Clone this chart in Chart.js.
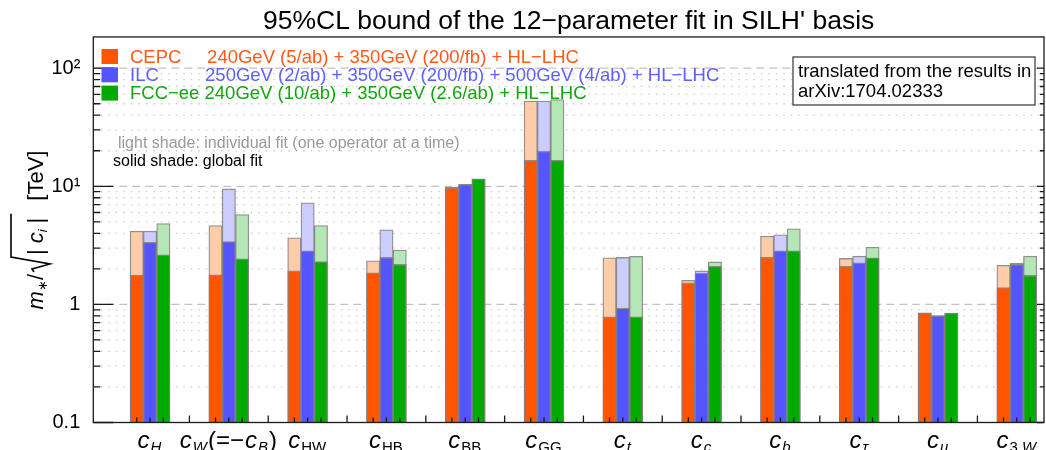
<!DOCTYPE html>
<html>
<head>
<meta charset="utf-8">
<script src="https://cdn.jsdelivr.net/npm/chart.js@4.4.1/dist/chart.umd.min.js"></script>
<style>
  html, body { margin: 0; padding: 0; background: #fff; }
  #wrap { width: 1046px; height: 450px; }
</style>
</head>
<body>
<div id="wrap"><canvas id="grafic"></canvas></div>
<script>
const categories = ['c_H', 'c_W(=−c_B)', 'c_HW', 'c_HB', 'c_BB', 'c_GG', 'c_t', 'c_c', 'c_b', 'c_τ', 'c_μ', 'c_3 W'];

// global fit (solid shade), TeV
const cepcGlobal = [1.77, 1.78, 1.92, 1.85, 9.7, 16.6, 0.785, 1.52, 2.51, 2.11, 0.844, 1.39];
const ilcGlobal  = [3.35, 3.41, 2.84, 2.50, 10.35, 19.8, 0.93, 1.84, 2.84, 2.25, 0.80, 2.18];
const fccGlobal  = [2.63, 2.43, 2.31, 2.18, 11.5, 16.6, 0.785, 2.10, 2.84, 2.48, 0.84, 1.76];
// individual fit (light shade), TeV
const cepcIndiv = [4.17, 4.66, 3.66, 2.34, 9.85, 52.8, 2.48, 1.60, 3.78, 2.45, 0.85, 2.14];
const ilcIndiv  = [4.17, 9.5, 7.24, 4.28, 10.4, 52.8, 2.50, 1.92, 3.88, 2.56, 0.805, 2.24];
const fccIndiv  = [4.84, 5.77, 4.66, 2.88, 11.55, 54.2, 2.55, 2.29, 4.36, 3.05, 0.845, 2.56];

const yTickValues = [0.1, 1, 10, 100];
const yTickLabels = ['0.1', '1', '10¹', '10²'];

const legendLines = [
  'CEPC     240GeV (5/ab) + 350GeV (200/fb) + HL−LHC',
  'ILC         250GeV (2/ab) + 350GeV (200/fb) + 500GeV (4/ab) + HL−LHC',
  'FCC−ee 240GeV (10/ab) + 350GeV (2.6/ab) + HL−LHC'
];
const noteLines = ['light shade: individual fit (one operator at a time)', 'solid shade: global fit'];
const boxLines = ['translated from the results in', 'arXiv:1704.02333'];

const FONT = '"Liberation Sans", Arial, sans-serif';
const solidColors = ['#ff5500', '#5555ff', '#00aa00'];
const lightColors = ['#ffccaa', '#ccccff', '#b5e6b5'];
const textColors = ['#ff5a1a', '#5f5fff', '#10a810'];
const BAR = 13.3;

function points(values) {
  return values.map((v, i) => ({x: i, y: v}));
}

function bars(label, values, stack, color, order) {
  return {
    label: label,
    data: points(values),
    stack: stack,
    order: order,
    backgroundColor: color,
    borderColor: 'rgba(125,125,125,0.85)',
    borderWidth: 1.3,
    barThickness: BAR
  };
}

// draw "c_X" style label pieces, returns width
function drawMath(c, s, x, y, big, small, measureOnly) {
  let w = 0;
  const re = /c_([A-Za-z0-9τμ ]+)|([^c]+)/g;
  let m;
  while ((m = re.exec(s)) !== null) {
    if (m[1] !== undefined) {
      c.font = 'italic ' + big + 'px ' + FONT;
      if (!measureOnly) c.fillText('c', x + w, y);
      w += c.measureText('c').width + 1;
      const sub = m[1];
      const letters = sub.replace(/[^A-Za-zτμ]/g, '');
      for (const ch of sub) {
        const upright = /[0-9 ]/.test(ch) || (letters.length > 1 && /[A-Z]/.test(ch));
        c.font = (upright ? '' : 'italic ') + small + 'px ' + FONT;
        if (!measureOnly) c.fillText(ch, x + w, y + 4);
        w += c.measureText(ch).width;
      }
      w += 1;
    } else {
      c.font = big + 'px ' + FONT;
      if (!measureOnly) c.fillText(m[2], x + w, y);
      w += c.measureText(m[2]).width + 1;
    }
  }
  return w;
}

function drawYTitle(c) {
  const big = 22, small = 13;
  const pieces = [
    {t: 'm', f: 'italic ' + big, dy: 0},
    {t: '∗', f: '' + small, dy: 4},
    {t: '/', f: '' + big, dy: 0, after: 1},
    {rad: true},
    {t: '|', f: '' + big, dy: 0, after: 6},
    {t: 'c', f: 'italic ' + big, dy: 0},
    {t: 'i', f: 'italic ' + small, dy: 4, after: 6},
    {t: '|', f: '' + big, dy: 0, after: 17, endRad: true},
    {t: '[TeV]', f: '' + big, dy: 0}
  ];
  let total = 0;
  pieces.forEach(p => {
    if (p.rad) { p.w = 18; } else { c.font = p.f + 'px ' + FONT; p.w = c.measureText(p.t).width + (p.after || 0); }
    total += p.w;
  });
  c.save();
  c.translate(43, 230 + total / 2);
  c.rotate(-Math.PI / 2);
  c.fillStyle = '#000';
  c.strokeStyle = '#000';
  c.textBaseline = 'alphabetic';
  let u = 0, radStart = 0;
  pieces.forEach(p => {
    if (p.rad) {
      radStart = u;
    } else {
      c.font = p.f + 'px ' + FONT;
      c.fillText(p.t, u, p.dy);
    }
    if (p.endRad) {
      const r = radStart;
      c.lineWidth = 1.6;
      c.lineJoin = 'miter';
      c.beginPath();
      c.moveTo(r + 1, -9);
      c.lineTo(r + 4, -11);
      c.lineTo(r + 9, 7);
      c.lineTo(r + 16, -32);
      c.lineTo(u + p.w - (p.after || 0) + 4, -32);
      c.stroke();
    }
    u += p.w;
  });
  c.restore();
}

const decor = {
  id: 'decor',
  beforeDatasetsDraw(chart) {
    const c = chart.ctx, a = chart.chartArea, ys = chart.scales.y;
    c.save();
    for (let e = -1; e <= 2; e++) {
      for (let k = 1; k <= 9; k++) {
        const v = k * Math.pow(10, e);
        if (v > ys.max) break;
        const py = ys.getPixelForValue(v);
        if (py > a.bottom - 1) continue;
        if (k === 1) {
          c.setLineDash([8, 5]);
          c.strokeStyle = '#c2c2c2';
          c.lineWidth = 1.2;
        } else {
          c.setLineDash([1.5, 6]);
          c.strokeStyle = '#cccccc';
          c.lineWidth = 1.3;
        }
        c.beginPath();
        c.moveTo(a.left, py);
        c.lineTo(a.right, py);
        c.stroke();
      }
    }
    c.restore();
  },
  afterDatasetsDraw(chart) {
    const c = chart.ctx, a = chart.chartArea, ys = chart.scales.y, xs = chart.scales.x;
    c.save();
    // frame
    c.strokeStyle = '#1a1a1a';
    c.lineWidth = 1.3;
    c.strokeRect(a.left, a.top, a.right - a.left, a.bottom - a.top);
    // y ticks, left and right
    c.beginPath();
    for (let e = -1; e <= 2; e++) {
      for (let k = 1; k <= 9; k++) {
        const v = k * Math.pow(10, e);
        if (v > ys.max) break;
        const py = ys.getPixelForValue(v);
        const major = k === 1;
        c.moveTo(a.left, py);
        c.lineTo(a.left + (major ? 20 : 7), py);
        c.moveTo(a.right, py);
        c.lineTo(a.right - (major ? 7 : 4), py);
      }
    }
    // x ticks
    categories.forEach((cat, i) => {
      const px = xs.getPixelForValue(i);
      for (let j = -1; j <= 1; j++) {
        c.moveTo(px + j * BAR, a.bottom);
        c.lineTo(px + j * BAR, a.bottom - 5);
      }
      if (i < categories.length - 1) {
        const pm = xs.getPixelForValue(i + 0.5);
        c.moveTo(pm, a.bottom);
        c.lineTo(pm, a.bottom - 7);
      }
    });
    c.stroke();

    // x labels
    c.fillStyle = '#000';
    c.textBaseline = 'alphabetic';
    c.textAlign = 'left';
    categories.forEach((cat, i) => {
      const px = xs.getPixelForValue(i);
      const w = drawMath(c, cat, 0, 0, 24, 15, true);
      drawMath(c, cat, px - w / 2, 448, 24, 15, false);
    });

    // legend
    c.font = '18.5px ' + FONT;
    legendLines.forEach((line, i) => {
      const yb = 62.5 + i * 18.3;
      c.fillStyle = solidColors[i];
      c.fillRect(101.5, yb - 13.5, 16.5, 15);
      c.fillStyle = textColors[i];
      c.fillText(line, 130, yb);
    });

    // notes
    c.font = '16px ' + FONT;
    c.fillStyle = '#9a9a9a';
    c.fillText(noteLines[0], 118, 148);
    c.fillStyle = '#000';
    c.fillText(noteLines[1], 113, 165.5);

    // box
    c.fillStyle = '#fff';
    c.fillRect(793, 57, 242, 48);
    c.strokeStyle = '#333';
    c.lineWidth = 1.2;
    c.strokeRect(793, 57, 242, 48);
    c.fillStyle = '#000';
    c.font = '18.5px ' + FONT;
    boxLines.forEach((line, i) => c.fillText(line, 798, 77 + i * 20));

    drawYTitle(c);
    c.restore();
  }
};

const datasets = [
  bars('CEPC global', cepcGlobal, 'cepc', solidColors[0], 0),
  bars('ILC global', ilcGlobal, 'ilc', solidColors[1], 0),
  bars('FCC-ee global', fccGlobal, 'fcc', solidColors[2], 0),
  bars('CEPC individual', cepcIndiv, 'cepc', lightColors[0], 1),
  bars('ILC individual', ilcIndiv, 'ilc', lightColors[1], 1),
  bars('FCC-ee individual', fccIndiv, 'fcc', lightColors[2], 1)
];

new Chart(document.getElementById('grafic').getContext('2d'), {
  type: 'bar',
  data: { datasets: datasets },
  plugins: [decor],
  options: {
    responsive: true,
    maintainAspectRatio: false,
    animation: false,
    layout: { padding: { left: 0, right: 2, top: 0, bottom: 27.5 } },
    plugins: {
      legend: { display: false },
      tooltip: { enabled: false },
      title: {
        display: true,
        fullSize: false,
        text: "95%CL bound of the 12−parameter fit in SILH' basis",
        color: '#000',
        font: { family: FONT, size: 26.5, weight: 'normal', lineHeight: 1.13 },
        padding: { top: 7, bottom: 0 }
      }
    },
    scales: {
      x: {
        type: 'linear',
        display: false,
        offset: false,
        min: -0.72,
        max: 11.345
      },
      y: {
        type: 'logarithmic',
        stacked: false,
        min: 0.1,
        max: 184,
        grid: { display: false },
        border: { display: false },
        afterFit: s => { s.width = 93.3; },
        afterBuildTicks: s => { s.ticks = yTickValues.map(v => ({ value: v })); },
        ticks: {
          padding: 5,
          color: '#000',
          font: { family: FONT, size: 20 },
          callback: (v, i) => yTickLabels[i]
        }
      }
    }
  }
});
</script>
</body>
</html>
